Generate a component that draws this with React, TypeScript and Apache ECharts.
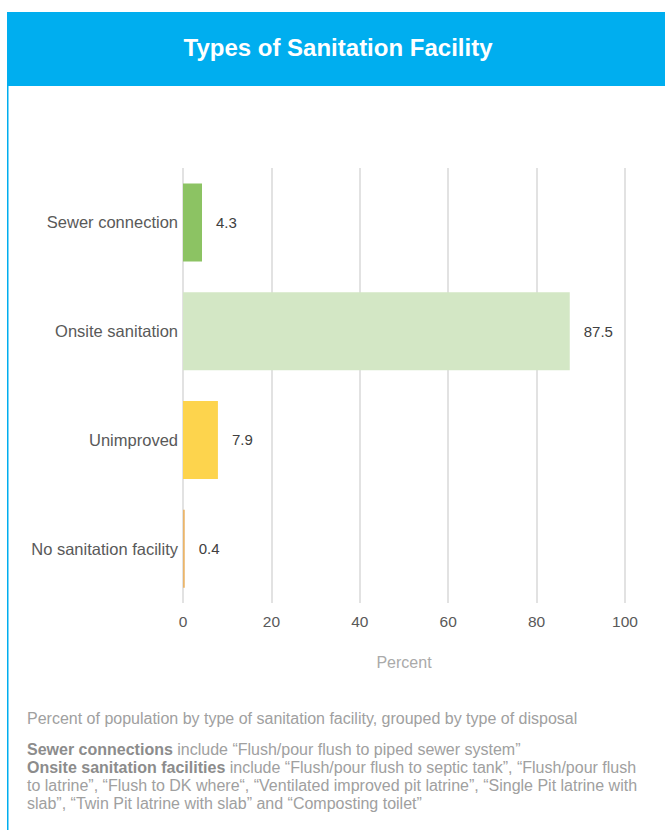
import React, { useEffect, useRef } from "react";
import * as echarts from "echarts";

const categories = ["Sewer connection", "Onsite sanitation", "Unimproved", "No sanitation facility"];
const values = [4.3, 87.5, 7.9, 0.4];
const barColors = ["#8CC363", "#D3E7C5", "#FDD44D", "#EAB56A"];
const xTicks = [0, 20, 40, 60, 80, 100];
const titleText = "Types of Sanitation Facility";
const axisName = "Percent";
const footerLines = [
  "Percent of population by type of sanitation facility, grouped by type of disposal",
  "{b|Sewer connections} include “Flush/pour flush to piped sewer system”",
  "{b|Onsite sanitation facilities} include “Flush/pour flush to septic tank”, “Flush/pour flush",
  "to latrine”, “Flush to DK where“, “Ventilated improved pit latrine”, “Single Pit latrine with",
  "slab”, “Twin Pit latrine with slab” and “Composting toilet”",
];

const FONT = "'Liberation Sans', Arial, sans-serif";

export default function App() {
  const ref = useRef<HTMLDivElement>(null);
  useEffect(() => {
    if (!ref.current) return;
    const chart = echarts.init(ref.current, undefined, { renderer: "svg" });
    const footerY = [718, 749, 767, 785, 803];
    chart.setOption({
      animation: false,
      backgroundColor: "#ffffff",
      textStyle: { fontFamily: FONT },
      graphic: [
        { type: "rect", shape: { x: 7, y: 12, width: 670, height: 74 }, style: { fill: "#00AEEF" }, z: 0 },
        { type: "rect", shape: { x: 7, y: 12, width: 1.5, height: 830 }, style: { fill: "#00AEEF" }, z: 0 },
        {
          type: "text",
          x: 338,
          y: 47,
          style: {
            text: titleText,
            fill: "#ffffff",
            fontFamily: FONT,
            fontWeight: "bold",
            fontSize: 24,
            align: "center",
            verticalAlign: "middle",
          },
          z: 2,
        },
        ...footerLines.map((t, i) => ({
          type: "text",
          x: 27,
          y: footerY[i],
          style: {
            text: t,
            fill: "#A0A0A0",
            fontFamily: FONT,
            fontSize: 16,
            verticalAlign: "middle",
            rich: {
              b: { fontWeight: "bold", fill: "#8C8C8C", fontFamily: FONT, fontSize: 16 },
            },
          },
        })),
      ],
      grid: { left: 183, right: 40, top: 168, bottom: 227, containLabel: false },
      xAxis: {
        type: "value",
        min: 0,
        max: 100,
        interval: 20,
        name: axisName,
        nameLocation: "middle",
        nameGap: 51,
        nameTextStyle: { color: "#AAAAAA", fontSize: 16, fontFamily: FONT },
        axisLine: { show: false },
        axisTick: { show: false },
        axisLabel: {
          color: "#595959",
          fontSize: 15.5,
          margin: 10,
          fontFamily: FONT,
          formatter: (v: number) => (xTicks.includes(v) ? String(v) : ""),
        },
        splitLine: { show: true, lineStyle: { color: "#D9D9D9", width: 1.5 } },
      },
      yAxis: {
        type: "category",
        data: categories,
        inverse: true,
        axisLine: { show: false },
        axisTick: { show: false },
        axisLabel: { color: "#595959", fontSize: 16.5, margin: 5, fontFamily: FONT },
      },
      series: [
        {
          type: "bar",
          barWidth: 78,
          data: values.map((v, i) => ({ value: v, itemStyle: { color: barColors[i] } })),
          label: {
            show: true,
            position: "right",
            distance: 14,
            color: "#404040",
            fontSize: 15,
            fontFamily: FONT,
          },
        },
      ],
    });
    return () => chart.dispose();
  }, []);
  return (
    <div
      ref={ref}
      style={{ position: "absolute", left: 0, top: 0, width: 665, height: 830 }}
    />
  );
}
